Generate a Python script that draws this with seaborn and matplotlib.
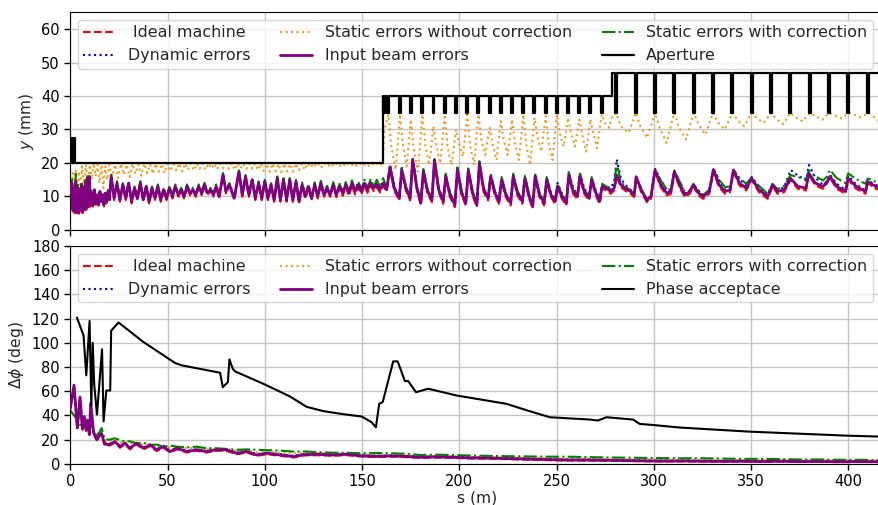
import matplotlib
matplotlib.use("Agg")
import matplotlib.pyplot as plt
import seaborn as sns

# ------------------------------------------------------------------ data
# top panel: common s grid (m) for the four beam-envelope series
ts_A = [0.3, 0.8, 1.3, 1.8, 2.3, 2.8, 3.3, 3.8, 4.3, 4.8, 5.3, 5.8, 6.3, 6.8, 7.3, 7.8, 8.3, 8.8, 9.3, 9.8,
        10.4, 11.0, 11.7, 12.4, 13.1, 13.8, 14.5, 15.2, 15.9, 16.6, 17.3, 18.0, 18.7, 19.4, 20.1]
ts_B = [21.0, 22.5, 24.0, 25.5, 27.0, 28.5, 30.0, 31.5, 33.0, 34.5, 36.0, 37.5, 39.0, 40.5, 42.0, 43.5, 45.0, 46.5,
        48.0, 49.5, 51.0, 52.5, 54.0, 55.5, 57.0, 58.5, 60.0, 61.5, 63.0, 64.5, 66.0, 67.5, 69.0, 70.5, 72.0, 73.5,
        75.0, 76.5, 78.5, 80.0,
        81.8, 84.3, 86.7, 88.4, 90.1, 91.8, 93.5, 95.1, 96.8, 98.4, 100.0, 101.6, 103.2, 104.8, 106.4, 108.0, 109.6,
        111.2, 112.8, 114.4, 116.0, 117.6, 119.2, 120.8, 122.4, 124.0, 125.6, 127.2, 128.8, 130.4, 132.0, 133.6,
        135.2, 136.8, 138.4, 140.0, 141.6, 143.2, 144.8, 146.4, 148.0, 149.6, 151.2, 152.8, 154.4, 156.0, 157.6,
        159.2, 160.8]
ts_C = [162.6, 164.4, 166.5, 169.1, 170.4, 172.5, 174.7, 176.0, 178.2, 180.2, 181.5, 183.7, 185.9, 187.2, 189.4,
        191.7, 193.0, 195.2, 197.7, 199.0, 201.2, 203.3, 204.6, 206.8, 209.0, 210.3, 212.5, 214.8, 216.1, 218.3,
        220.4, 221.7, 223.9, 226.4, 227.7, 229.9, 232.4, 233.7, 235.9, 237.7, 239.0, 241.2, 243.6, 244.9, 247.1,
        249.2, 250.5, 252.7, 255.0, 256.3, 258.5, 260.7, 262.0, 264.2, 266.7, 268.0, 270.2, 272.1, 273.4, 275.5,
        277.8, 279.6]
ts_D = [280.9, 283.0, 285.2, 288.0, 289.9, 290.9, 293.5, 296.4, 298.5, 300.6, 303.5, 306.6, 308.8, 310.5, 313.5,
        316.0, 318.5, 320.3, 323.0, 325.4, 328.5, 330.6, 333.5, 336.6, 339.2, 340.9, 344.0, 347.5, 350.3, 354.0,
        358.5, 361.0, 363.6, 367.0, 370.3, 374.0, 378.2, 379.7, 383.0, 387.0, 389.1, 390.5, 394.0, 398.5, 399.9,
        404.0, 408.8, 410.0, 414.0, 418.0]

# Input beam errors (purple)
tp_A = [11, 14, 6, 12, 5.5, 14.5, 5.5, 12.5, 5, 11.5, 6, 13.5, 5.5, 12, 6, 14, 6.5, 15.5, 7, 16, 7.5, 11, 7.5, 12,
        8, 10.5, 7.5, 11.5, 8.5, 10.5, 7.5, 11, 8.5, 11.5, 9]
tp_B = [16, 9.5, 14, 9, 13.5, 9.5, 14, 8.5, 12.5, 9.5, 14, 9, 13, 8.5, 12.5, 9.5, 13, 9, 12, 9.5, 12.5, 10, 13, 10.5,
        12, 10, 13, 11, 12, 10.5, 13, 11, 13.5, 11, 12, 10.5, 13, 10, 16.5, 11.5,
        13.5, 9.5, 17.4, 10.5, 15.9, 10.5, 15, 9.5, 14, 9.5, 14.5, 9.5, 13.5, 9, 15.5, 9, 15, 9, 15, 9, 14.5, 8.5,
        13.5, 10, 13, 9.5, 13.5, 10, 14, 10.5, 12.5, 10.5, 13.5, 10.5, 13, 11, 13.5, 11, 14, 11.5, 13.5, 11.5, 14,
        12, 14, 12.5, 13.5, 12, 14]
tp_C = [12, 18.7, 12.5, 9.5, 18.0, 12.5, 9.5, 20.9, 12.5, 8, 17.5, 11.5, 9, 20.9, 12, 8.5, 16.0, 10.5, 7.5,
        18.0, 11, 8, 17.7, 11, 7.5, 19.9, 12, 9.5, 16.0, 11, 8.5, 15.0, 10.5, 8, 16.0, 11, 8.5, 15.4, 10, 7,
        16.0, 10.5, 8, 15.0, 10.5, 8.5, 13.0, 10, 8, 16.4, 11.5, 10, 16.0, 11.5, 9.5, 15.0, 11, 8.5, 13.0, 12.5,
        11.5, 12.5]
tp_D = [16.4, 13.5, 12.5, 11.5, 10.5, 15.9, 12, 9.0, 10, 17.9, 13.5, 11, 11.5, 17.4, 13, 10.5, 11.5, 13.4, 11, 10,
        11.5, 17.9, 13.5, 11.5, 12, 17.9, 14, 12.5, 15.4, 12, 10, 13.4, 11.5, 12, 15.4, 13, 12.5, 16.9, 14, 13,
        14.4, 16, 13, 11.5, 15.4, 13, 11.5, 14.4, 13, 12.5]

# Ideal machine (red)
tr_A = [10.5, 13.5, 5.5, 11.5, 5, 14, 5, 12, 4.8, 11, 5.5, 13, 5, 11.5, 5.5, 13.5, 6, 15, 6.5, 15.5, 7, 10.5, 7,
        11.5, 7.5, 10, 7, 11, 8, 10, 7, 10.5, 8, 11, 8.5]
tr_B = [15.7, 8.9, 13.7, 8.4, 13.2, 8.9, 13.7, 7.9, 12.2, 8.9, 13.7, 8.4, 12.7, 7.9, 12.2, 8.9, 12.7, 8.4, 11.7,
        8.9, 12.2, 9.4, 12.7, 9.9, 11.7, 9.4, 12.7, 10.4, 11.7, 9.9, 12.7, 10.4, 13.2, 10.4, 11.7, 9.9, 12.7, 9.4,
        16.2, 10.9,
        13.2, 8.9, 17.1, 9.9, 15.6, 9.9, 14.7, 8.9, 13.7, 8.9, 14.2, 8.9, 13.2, 8.4, 15.2, 8.4, 14.7, 8.4, 14.7,
        8.4, 14.2, 7.9, 13.2, 9.4, 12.7, 8.9, 13.2, 9.4, 13.7, 9.9, 12.2, 9.9, 13, 9.8, 12.5, 10.2, 12.8, 10.2,
        13.2, 10.6, 12.7, 10.7, 13.1, 11.1, 13.1, 11.6, 12.7, 11.2, 13.2]
tr_C = [11.5, 18.2, 11.8, 8.8, 17.5, 11.8, 8.8, 20.3, 11.8, 7.3, 17.0, 10.8, 8.3, 20.3, 11.3, 7.8, 15.5, 9.8, 6.8,
        17.5, 10.3, 7.3, 17.2, 10.3, 6.8, 19.4, 11.3, 8.8, 15.5, 10.3, 7.8, 14.5, 9.8, 7.3, 15.5, 10.3, 7.8, 14.9,
        9.3, 6.3, 15.5, 9.8, 7.3, 14.5, 9.8, 7.8, 12.5, 9.3, 7.3, 15.9, 10.8, 9.3, 15.5, 10.8, 8.8, 14.5, 10.3,
        7.8, 12.5, 11.8, 10.8, 11.8]
tr_D = [16.0, 12.8, 11.8, 10.8, 9.8, 15.5, 11.3, 8.3, 9.3, 17.5, 12.8, 10.3, 10.8, 17.0, 12.3, 9.8, 10.8, 13.0,
        10.3, 9.3, 10.8, 17.5, 12.8, 10.8, 11.3, 17.5, 13.3, 11.8, 15.0, 11.3, 9.3, 13.0, 10.8, 11.3, 15.0, 12.3,
        11.8, 16.5, 13.3, 12.3, 14.0, 15.6, 12.3, 10.8, 15.0, 12.3, 10.8, 14.0, 12.3, 11.8]

# Dynamic errors (blue)
tb_A = [11, 14, 6, 12, 5.5, 14.5, 5.5, 12.5, 5, 11.5, 6, 13.5, 5.5, 12, 6, 14, 6.5, 15.5, 7, 16, 7.5, 11, 7.5, 12,
        8, 10.5, 7.5, 11.5, 8.5, 10.5, 7.5, 11, 8.5, 11.5, 9]
tb_B = [16, 9.5, 14, 9, 13.5, 9.5, 14, 8.5, 12.5, 9.5, 14, 9, 13, 8.5, 12.5, 9.5, 13, 9, 12, 9.5, 12.5, 10, 13, 10.5,
        12, 10, 13, 11, 12, 10.5, 13, 11, 13.5, 11, 12, 10.5, 13, 10, 16.5, 11.5,
        13.5, 9.5, 17.4, 10.5, 15.9, 10.5, 15, 9.5, 14, 9.5, 14.5, 9.5, 13.5, 9, 15.5, 9, 15, 9, 15, 9, 14.5, 8.5,
        13.5, 10, 13, 9.5, 13.5, 10, 14, 10.5, 12.5, 10.5, 13.5, 10.6, 13.1, 11.1, 13.7, 11.2, 14.2, 11.8, 13.8,
        11.9, 14.4, 12.4, 14.5, 12.9, 14, 12.5, 14.6]
tb_C = [12.3, 19.5, 13, 9.8, 18.5, 13, 9.8, 21.6, 13, 8.5, 18.0, 12, 9.3, 21.5, 12.5, 8.8, 16.5, 11, 7.8,
        18.5, 11.5, 8.3, 18.2, 11.5, 7.8, 20.5, 12.5, 9.8, 16.5, 11.5, 8.8, 15.5, 11, 8.3, 16.5, 11.5, 8.8, 16.0,
        10.5, 7.3, 16.5, 11, 8.3, 15.5, 11, 8.8, 14.0, 11, 8.5, 17.5, 12.5, 10.5, 17.0, 12.5, 10, 15.5, 11.5, 9,
        13.5, 13, 12.5, 14.5]
tb_D = [21.1, 15.5, 13.5, 12, 11, 15, 12.2, 8.5, 10, 18.2, 15, 12, 12, 17.6, 13.8, 11, 11.5, 13.6, 11.5, 10.2,
        11.8, 18.4, 14.8, 12, 12.5, 18.0, 15.2, 13.2, 15.8, 12.5, 10.3, 13.6, 11.8, 12.8, 17.9, 16.3, 14.8, 19.4,
        15.6, 13.5, 14.6, 16.5, 13.8, 12, 16.2, 13.6, 11.8, 14.8, 13.5, 12.8]

# Static errors with correction (green)
tg_A = [11.5, 15, 6.5, 13, 6, 16.8, 6, 13.5, 5.5, 12.5, 6.5, 14.5, 6, 13, 6.5, 15, 7, 16.5, 7.5, 16.5, 8, 12, 8,
        12.5, 8.5, 11, 8, 12, 9, 11, 8, 11.5, 9, 12, 9.5]
tg_B = [16.5, 9.8, 14.6, 9.3, 14, 9.8, 14.6, 8.8, 13, 9.8, 14.6, 9.3, 13.6, 8.8, 13, 9.8, 13.6, 9.3, 12.6, 9.8,
        13.1, 10.3, 13.6, 10.8, 12.6, 10.3, 13.6, 11.3, 12.6, 10.8, 13.6, 11.3, 14.1, 11.3, 12.6, 10.8, 13.6, 10.3,
        17, 11.8,
        14, 9.8, 17.8, 10.8, 16.4, 10.8, 15.5, 9.8, 14.5, 9.8, 15, 9.8, 14, 9.3, 16, 9.3, 15.5, 9.3, 15.5, 9.3, 15,
        8.8, 14.2, 10.3, 13.6, 9.8, 14.2, 10.3, 14.7, 10.8, 13.2, 11, 14.3, 11, 13.8, 11.5, 14.3, 11.5, 14.8, 12,
        14.5, 12.2, 15, 12.6, 15.2, 13, 15, 12.8, 15.5]
tg_C = [12.5, 19.3, 13, 9.8, 18.6, 13, 9.8, 21.3, 13, 8.4, 18.2, 12, 9.4, 21.2, 12.5, 9, 16.8, 11, 8,
        18.7, 11.5, 8.4, 18.4, 11.5, 8, 20.4, 12.5, 10, 16.8, 11.5, 9, 15.8, 11, 8.5, 16.8, 11.5, 9, 16.2, 10.5,
        7.5, 16.8, 11, 8.5, 15.8, 11, 9, 13.8, 10.5, 8.5, 17.2, 12, 10.5, 16.8, 12, 10, 15.8, 11.5, 9, 13.8, 13,
        12, 13.5]
tg_D = [19.9, 14.5, 13, 11.8, 10.8, 15.2, 12.5, 9, 10.2, 18.0, 14.8, 12.2, 12, 17.8, 14.2, 11.5, 11.8, 13.8, 11.8,
        10.5, 12, 18.2, 15, 12.8, 13, 17.9, 15.5, 13.8, 15.7, 13.2, 10.8, 13.8, 12.2, 13.2, 16.4, 15.8, 15.2, 17.8,
        16, 14.8, 16, 17.9, 15.5, 14, 16.9, 15.2, 13.8, 15.4, 14.4, 14.0]

# Static errors without correction (orange), own grid
to_s = [0.5, 1.2, 2.0, 2.8, 3.6, 4.4, 5.2, 6.0, 7.0, 8.0, 9.0, 10.0, 11.0, 12.0, 13.0, 14.0, 15.0, 16.0, 17.0,
        18.0, 19.0, 20.0,
        21.5, 23.0, 24.5, 26.0, 27.5, 29.0, 30.5, 32.0, 33.5, 35.0, 36.5, 38.0, 39.5, 41.0, 42.5, 44.0, 45.5, 47.0,
        48.5, 50.0, 51.5, 53.0, 54.5, 56.0, 57.5, 59.0, 60.5, 62.0, 63.5, 65.0, 66.5, 68.0, 69.5, 71.0, 72.5, 74.0,
        75.5, 77.0, 78.5, 80.0, 81.5, 83.0, 84.5, 86.0, 87.5, 89.0, 90.5, 92.0, 93.5, 95.0, 96.5, 98.0, 99.5,
        101.0, 102.5, 104.0, 105.5, 107.0, 108.5, 110.0, 111.5, 113.0, 114.5, 116.0, 117.5, 119.0, 120.5, 122.0,
        123.5, 125.0, 126.5, 128.0, 129.5, 131.0, 132.5, 134.0, 135.5, 137.0, 138.5, 140.0, 141.5, 143.0, 144.5,
        146.0, 147.5, 149.0, 150.5, 152.0, 153.5, 155.0, 156.5, 158.0, 159.5,
        160.6, 161.5, 163.5, 165.0, 167.3, 169.5, 171.0, 172.9, 175.1, 176.6, 178.7, 181.0, 182.5, 184.5, 186.7,
        188.2, 190.2, 192.5, 194.0, 196.0, 198.3, 199.8, 201.8, 204.1, 205.6, 207.6, 209.8, 211.3, 213.3, 215.6,
        217.1, 219.1, 221.3, 222.8, 224.8, 227.1, 228.6, 230.6, 232.9, 234.4, 236.4, 238.6, 240.1, 242.1, 244.4,
        245.9, 247.9, 250.1, 251.6, 253.6, 255.9, 257.4, 259.4, 261.7, 263.2, 265.2, 267.3, 268.8, 270.8, 273.2,
        274.7, 277.0, 278.3,
        280.6, 283.0, 287.0, 290.7, 293.0, 296.5, 300.6, 303.0, 306.5, 310.5, 313.0, 316.5, 320.5, 323.0, 326.5,
        330.4, 333.0, 336.5, 340.4, 343.0, 346.5, 350.3, 353.0, 356.5, 360.3, 363.0, 366.5, 370.2, 373.0, 376.5,
        380.3, 383.0, 386.5, 390.1, 393.0, 396.5, 400.0, 403.0, 406.5, 410.3, 413.0, 418.0]
to_y = [12, 17, 11, 18, 10.5, 17.5, 12, 19, 13, 19.5, 14, 19.5, 15, 20, 16, 19.5, 14, 19.5, 12.5, 19, 15, 19.5,
        16.0, 19.5, 15.5, 19.8, 16.5, 19.5, 15.8, 19.8, 16.8, 19.6, 16.2, 19.8, 17.0, 19.6, 16.8, 19.8, 17.4, 19.7,
        17.0, 19.8, 17.6, 19.7, 17.8, 19.9, 17.5, 19.8, 18.0, 19.9, 17.8, 19.8, 18.2, 19.9, 18.0, 19.9, 18.4, 19.8,
        18.1, 19.9, 18.5, 19.9, 18.3, 19.9, 18.0, 19.9, 18.4, 19.8, 18.2, 19.9, 18.3, 19.8, 17.9, 19.8, 17.6, 19.7,
        17.4, 19.8, 17.6, 19.7, 17.3, 19.8, 17.5, 19.7, 17.4, 19.8, 17.8, 19.8, 18.0, 19.9, 18.6, 19.9, 18.8, 19.9,
        18.7, 19.9, 19.0, 19.9, 18.9, 19.9, 19.1, 19.9, 19.0, 19.9, 19.2, 19.9, 19.0, 19.9, 19.2, 19.9, 19.1, 19.9,
        19.2, 19.9, 19.3,
        20, 30, 34.5, 25, 18.0, 34.5, 25.5, 19, 33, 24, 17.4, 34.5, 25.5, 19.4, 31, 25, 19.9, 34.5, 24.5, 19.4, 30,
        26, 21.9, 34.5, 25, 19.4, 34.5, 27, 22.4, 30.5, 25.5, 20.9, 32.5, 27, 22.4, 33, 26, 20.9, 34.5, 25.5, 19.4,
        33.5, 28, 23.4, 34, 26, 20.9, 34.5, 29, 24.9, 33.5, 29, 24.9, 33, 28.5, 23.4, 33, 29, 24.4, 34.5, 32, 30.5,
        33.5,
        35, 31, 29, 35, 31, 27.5, 35, 30.5, 26, 35, 30.5, 27, 35, 31.5, 28.5, 35, 32, 30, 35, 32.8, 31, 35, 33.3, 32,
        35, 33.2, 31.6, 35, 33.6, 32.4, 35, 34, 32.9, 35, 34.2, 33.3, 35, 34.4, 33.6, 35, 33.8, 31.5]

# aperture: section edges, levels and notch positions
ap_edges = [0.0, 2.5, 160.6, 278.3, 418.0]
ap_levels = [27.4, 20.0, 40.0, 47.0]
ap_notch_bottom = [20.0, 20.0, 35.0, 35.0]
ap_notches = [[0.7, 1.5],
              [],
              [161.5, 163.5, 169.5, 175.1, 181.0, 186.7, 192.5, 198.3, 204.1, 209.8, 215.6, 221.3, 227.1, 232.9,
               238.6, 244.4, 250.1, 255.9, 261.7, 267.3, 273.2],
              [280.6, 290.7, 300.6, 310.5, 320.5, 330.4, 340.4, 350.3, 360.3, 370.2, 380.3, 390.1, 400.0, 410.3]]
ap_halfwidth = [0.4, 0.4, 0.5, 0.5]

# bottom panel
bs = [0.0, 1.9, 3.6, 5.0, 6.2, 7.2, 8.1, 8.8, 9.8, 10.5, 11.9, 13.6, 15.0, 16.1, 17.5, 19.5, 23.0, 25.5, 28.0,
      30.7, 34.0, 37.6, 41.0, 44.4, 48.0, 51.3, 54.7, 60.0, 65.0, 70.0, 75.0, 80.0, 85.6, 90.7, 95.8, 101.0, 108.0,
      115.0, 120.0, 127.0, 135.0, 142.0, 150.0, 158.0, 165.0, 172.0, 180.0, 188.0, 196.0, 205.0, 215.0, 225.0,
      235.0, 245.0, 255.0, 265.0, 275.0, 285.0, 295.0, 305.0, 315.0, 325.0, 335.0, 345.0, 355.0, 365.0, 375.0,
      385.0, 395.0, 405.0, 418.0]
bp = [46, 65, 29.5, 55, 29.5, 39, 28, 36, 24, 50, 26.5, 19.7, 23.8, 25, 17, 15.5, 18.2, 14.1, 16.9, 12.8, 16.9,
      12.8, 15.5, 11.5, 14.1, 10, 12.8, 10, 11.5, 10, 11.5, 11.5, 8.6, 10, 7.2, 8.6, 7.2, 5.8, 7.5, 7.7, 7.2, 7.7,
      6.4, 6.0, 6.4, 6.0, 5.3, 5.6, 5.3, 4.8, 4.6, 4.2, 3.8, 3.4, 3.0, 3.0, 2.8, 2.6, 2.3, 2.1, 2.2, 2.0, 1.9, 2.0,
      1.8, 2.0, 1.7, 1.8, 1.6, 1.7, 1.6]
bg = [44, 40, 36, 32, 33, 31, 29.5, 30, 28, 31, 27, 23.8, 26, 29.5, 21, 19.7, 21, 19.5, 18.2, 18.5, 16.9, 17.2,
      15.5, 15.8, 14.1, 15, 14.1, 13.5, 14.1, 12.8, 12.8, 12.2, 11.5, 11.8, 11.5, 11.2, 10.8, 10, 10.2, 9.5, 9.1,
      9.0, 8.6, 8.8, 8.6, 8.2, 7.2, 7.5, 7.2, 6.8, 6.5, 6.2, 6.0, 5.8, 5.8, 5.5, 5.2, 5.0, 4.8, 4.6, 4.5, 4.5, 4.2,
      4.0, 4.0, 3.8, 3.5, 3.5, 3.2, 3.2, 3.0]
br = [45, 63, 28, 53, 28, 37.5, 27, 35, 23, 48.5, 25.5, 18.7, 22.8, 24, 16, 14.5, 17.2, 13.1, 15.9, 11.8, 15.9,
      11.8, 14.5, 10.5, 13.1, 9.2, 11.8, 9.2, 10.7, 9.2, 10.7, 10.7, 7.8, 9.2, 6.5, 7.8, 6.5, 5.1, 6.8, 7.0, 6.5,
      7.0, 5.8, 5.4, 5.8, 5.4, 4.8, 5.0, 4.8, 4.3, 4.1, 3.7, 3.3, 2.9, 2.6, 2.6, 2.4, 2.2, 2.0, 1.8, 1.9, 1.7, 1.6,
      1.7, 1.5, 1.7, 1.4, 1.5, 1.3, 1.4, 1.3]
bb = [46, 64, 30, 54, 30, 38.5, 28.5, 35.5, 24.5, 49, 27, 20.2, 24, 25.5, 17.5, 16, 18.6, 14.6, 17.3, 13.3, 17.2,
      13.3, 15.9, 12, 14.5, 10.6, 13.2, 10.6, 12, 10.6, 12, 11.9, 9.2, 10.5, 7.9, 9.2, 7.9, 6.5, 8.1, 8.2, 7.8,
      8.2, 7.0, 6.6, 6.9, 6.5, 5.9, 6.1, 5.8, 5.3, 5.1, 4.7, 4.3, 3.9, 3.5, 3.5, 3.3, 3.1, 2.8, 2.6, 2.7, 2.5, 2.4,
      2.5, 2.3, 2.5, 2.2, 2.3, 2.1, 2.2, 2.1]
bo = [44, 42, 33, 40, 31, 35, 29, 33, 26, 38, 26.5, 21.5, 24.5, 27, 19.5, 18.5, 20, 17.5, 18.2, 16.5, 17.5, 15.5,
      16, 14.5, 15, 13.5, 13.8, 12.8, 13, 12, 12, 12.5, 10.5, 11.5, 9.5, 10.5, 9.2, 8.3, 9.2, 8.9, 8.3, 8.6, 7.5,
      7.5, 7.3, 7.0, 6.3, 6.5, 6.2, 5.8, 5.5, 5.2, 4.9, 4.6, 4.4, 4.2, 4.0, 3.8, 3.6, 3.4, 3.4, 3.3, 3.1, 3.1, 3.0,
      2.9, 2.8, 2.8, 2.6, 2.6, 2.5]

pa_s = [3.4, 6.8, 8.2, 9.9, 10.8, 11.5, 12.3, 13.7, 16.3, 17.1, 18.5, 20.5, 21.0, 24.8, 37.6, 53.9, 57.3, 77.0,
        78.4, 81.0, 81.8, 83.5, 84.7, 100.0, 113.0, 121.5, 130.0, 140.0, 149.8, 154.9, 157.1, 158.8, 160.6, 166.0,
        168.3, 172.0, 173.7, 177.7, 184.0, 198.5, 224.2, 235.0, 246.5, 267.0, 271.3, 275.6, 289.3, 292.7, 299.5,
        313.2, 349.2, 398.8, 418.0]
pa_y = [120.8, 106, 73, 118, 48, 100, 65, 40.6, 94.5, 35, 60.5, 60.5, 110, 116.7, 100.6, 83.2, 81.3, 75.2, 63.3,
        67.4, 86.3, 78.5, 76.3, 65.5, 55.5, 47, 43.5, 41, 39, 34.3, 30.1, 49.5, 50.9, 84.6, 84.6, 68.3, 68.3, 59.1,
        62, 56.4, 49.5, 44, 38.4, 36.5, 35.7, 38.4, 36.5, 32.9, 32, 29.9, 26.5, 23.2, 22.3]

labels_top = [" Ideal machine", "Dynamic errors", "Static errors without correction",
              "Input beam errors", "Static errors with correction", "Aperture"]
labels_bot = [" Ideal machine", "Dynamic errors", "Static errors without correction",
              "Input beam errors", "Static errors with correction", "Phase acceptace"]

# ------------------------------------------------------------------ build
ts = ts_A + ts_B + ts_C + ts_D
tp = tp_A + tp_B + tp_C + tp_D
tr = tr_A + tr_B + tr_C + tr_D
tb = tb_A + tb_B + tb_C + tb_D
tg = tg_A + tg_B + tg_C + tg_D


def aperture_path(edges, levels, bottoms, notches, hws):
    xs, ys = [], []
    for i, lev in enumerate(levels):
        xs.append(edges[i]); ys.append(lev)
        for c in notches[i]:
            h = hws[i]
            xs += [c - h, c - h, c + h, c + h]
            ys += [lev, bottoms[i], bottoms[i], lev]
        xs.append(edges[i + 1]); ys.append(lev)
    return xs, ys


ap_x, ap_y = aperture_path(ap_edges, ap_levels, ap_notch_bottom, ap_notches, ap_halfwidth)

sns.set_style("ticks")
plt.rcParams['font.family'] = ['DejaVu Sans']
plt.rcParams['axes.edgecolor'] = 'black'
plt.rcParams['xtick.color'] = 'black'
plt.rcParams['ytick.color'] = 'black'

fig = plt.figure(figsize=(8.79, 5.05), dpi=100)
ax1 = fig.add_axes([0.080, 0.5446, 0.925, 0.4311])
ax2 = fig.add_axes([0.080, 0.0818, 0.925, 0.4311])

kw = dict(estimator=None, sort=False)
LW = 1.5

# top panel
sns.lineplot(x=ts, y=tr, ax=ax1, color='red', linestyle='--', lw=LW, label=labels_top[0], zorder=2.0, **kw)
sns.lineplot(x=ts, y=tb, ax=ax1, color='mediumblue', linestyle=':', lw=LW, label=labels_top[1], zorder=2.1, **kw)
sns.lineplot(x=to_s, y=to_y, ax=ax1, color='#f29a1e', linestyle=':', lw=LW, label=labels_top[2], zorder=2.0, **kw)
sns.lineplot(x=ts, y=tp, ax=ax1, color='purple', linestyle='-', lw=2.0, label=labels_top[3], zorder=3.0, **kw)
sns.lineplot(x=ts, y=tg, ax=ax1, color='green', linestyle='-.', lw=LW, label=labels_top[4], zorder=2.2, **kw)
sns.lineplot(x=ap_x, y=ap_y, ax=ax1, color='black', linestyle='-', lw=1.6, label=labels_top[5], zorder=3.5, **kw)

# bottom panel
sns.lineplot(x=bs, y=br, ax=ax2, color='red', linestyle='--', lw=LW, label=labels_bot[0], zorder=2.0, **kw)
sns.lineplot(x=bs, y=bb, ax=ax2, color='mediumblue', linestyle=':', lw=LW, label=labels_bot[1], zorder=2.1, **kw)
sns.lineplot(x=bs, y=bo, ax=ax2, color='goldenrod', linestyle=':', lw=LW, label=labels_bot[2], zorder=2.0, **kw)
sns.lineplot(x=bs, y=bp, ax=ax2, color='purple', linestyle='-', lw=2.0, label=labels_bot[3], zorder=3.0, **kw)
sns.lineplot(x=bs, y=bg, ax=ax2, color='green', linestyle='-.', lw=LW, label=labels_bot[4], zorder=2.2, **kw)
sns.lineplot(x=pa_s, y=pa_y, ax=ax2, color='black', linestyle='-', lw=1.5, label=labels_bot[5], zorder=3.5, **kw)

for ax in (ax1, ax2):
    ax.set_xlim(0, 418)
    ax.set_xticks(range(0, 401, 50))
    ax.grid(True, color='#c4c4c4', linewidth=1.0)
    ax.set_axisbelow(True)
    ax.tick_params(labelsize=10.5, length=4, width=1)
    for sp in ax.spines.values():
        sp.set_color('black')
    ax.legend(ncol=3, loc='upper left', fontsize=11.4, labelspacing=0.5, borderpad=0.33,
              columnspacing=1.9, handlelength=2.0, handletextpad=0.8, framealpha=0.8, edgecolor='#cccccc')

ax1.set_ylim(0, 65)
ax1.set_yticks(range(0, 61, 10))
ax1.tick_params(labelbottom=False)
ax1.set_xlabel('')
ax1.set_ylabel(r'$y$ (mm)', fontsize=11.2)

ax2.set_ylim(0, 180)
ax2.set_yticks(range(0, 181, 20))
ax2.set_xlabel('s (m)', fontsize=11.2, labelpad=1)
ax2.set_ylabel(r'$\Delta\phi$ (deg)', fontsize=11.2)

fig.savefig('out.png', dpi=100)
